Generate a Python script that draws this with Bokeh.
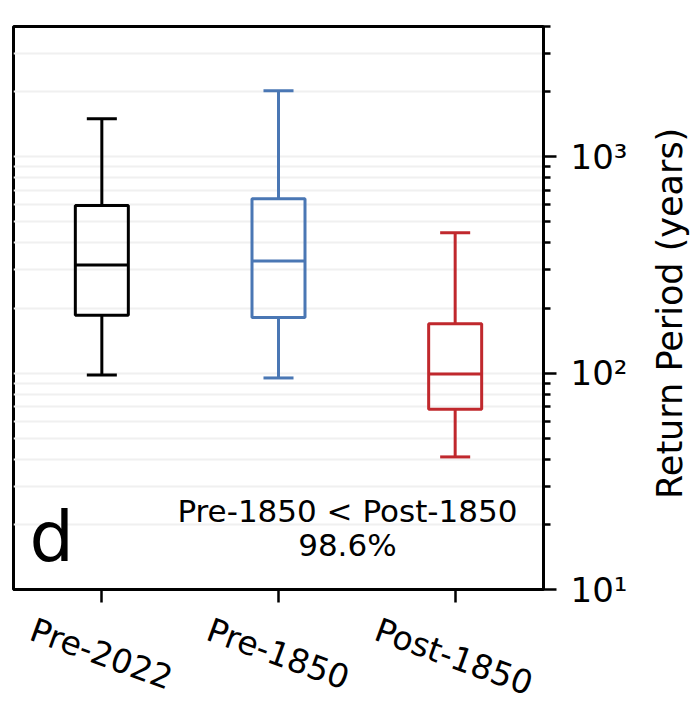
import math
from bokeh.plotting import figure
from bokeh.layouts import row
from bokeh.models import ColumnDataSource, FixedTicker, LinearAxis, Range1d
from bokeh.core.properties import value
from bokeh.embed import file_html
from bokeh.resources import INLINE

# Return-period distributions (years) for each period
categories = ["Pre-2022", "Pre-1850", "Post-1850"]
whisker_low = [98, 95, 41]
q1 = [185, 181, 68]
median = [316, 330, 99]
q3 = [595, 640, 169]
whisker_high = [1500, 2020, 445]
colors = ["#000000", "#4a77b4", "#c0282d"]

major_ticks = [10, 100, 1000]
tick_labels = {10: "10¹", 100: "10²", 1000: "10³"}
minor_ticks = [20, 30, 40, 50, 60, 70, 80, 90,
               200, 300, 400, 500, 600, 700, 800, 900,
               2000, 3000, 4000]

y_title = "Return Period (years)"
annotation_lines = ["Pre-1850 < Post-1850", "98.6%"]
panel_letter = "d"

FONT = "DejaVu Sans"
positions = [i + 1 for i in range(len(categories))]
box_w = 0.30
cap_w = 0.17

FRAME_W, FRAME_H = 530, 563
X_START, X_END = 0.5, 3.5
LABEL_PX = 33
LABEL_ANGLE = -0.349
TOTAL_W, TOTAL_H = 695, 703
TITLE_W = 50

src = ColumnDataSource(dict(
    x=positions, lo=whisker_low, q1=q1, med=median, q3=q3, hi=whisker_high,
    color=colors,
    left=[x - box_w / 2 for x in positions], right=[x + box_w / 2 for x in positions],
    cl=[x - cap_w / 2 for x in positions], cr=[x + cap_w / 2 for x in positions],
))

p = figure(
    frame_width=FRAME_W, frame_height=FRAME_H,
    x_range=(X_START, X_END), y_range=(10, 4000), y_axis_type="log",
    output_backend="svg", toolbar_location=None,
    y_axis_location="right",
    min_border_left=13, min_border_top=26,
    min_border_right=TOTAL_W - TITLE_W - 13 - FRAME_W,
    min_border_bottom=TOTAL_H - 26 - FRAME_H,
)
p.background_fill_color = "white"
p.border_fill_color = "white"
p.outline_line_color = "black"
p.outline_line_width = 3

# whiskers
p.segment(x0="x", y0="lo", x1="x", y1="q1", source=src, line_color="color", line_width=3)
p.segment(x0="x", y0="q3", x1="x", y1="hi", source=src, line_color="color", line_width=3)
# caps
p.segment(x0="cl", y0="lo", x1="cr", y1="lo", source=src, line_color="color", line_width=3)
p.segment(x0="cl", y0="hi", x1="cr", y1="hi", source=src, line_color="color", line_width=3)
# boxes
p.quad(left="left", right="right", bottom="q1", top="q3", source=src,
       fill_color=None, line_color="color", line_width=3)
# medians
p.segment(x0="left", y0="med", x1="right", y1="med", source=src, line_color="color", line_width=3)

# x axis: tick marks only
p.xaxis.ticker = FixedTicker(ticks=positions)
p.xaxis.major_label_overrides = {pos: "" for pos in positions}
p.xaxis.major_label_text_font_size = "1px"
p.xaxis.major_label_standoff = 0
p.xaxis.major_tick_out = 13
p.xaxis.major_tick_in = 0
p.xaxis.major_tick_line_width = 2.5
p.xaxis.minor_tick_line_color = None
p.xaxis.axis_line_width = 3
p.xgrid.grid_line_color = None

# Slanted category names: a second, line-less axis whose label anchors are
# shifted left by half the slanted text width so each name sits centred
# under its tick.
units_per_px = (X_END - X_START) / FRAME_W
shifts = [0.5 * 0.565 * len(c) * LABEL_PX * math.cos(LABEL_ANGLE) * units_per_px
          for c in categories]
label_pos = [pos - s for pos, s in zip(positions, shifts)]
p.extra_x_ranges = {"labels": Range1d(X_START, X_END)}
lab_axis = LinearAxis(x_range_name="labels")
lab_axis.ticker = FixedTicker(ticks=label_pos)
lab_axis.major_label_overrides = {lp: c for lp, c in zip(label_pos, categories)}
lab_axis.major_label_orientation = LABEL_ANGLE
lab_axis.major_label_text_font = FONT
lab_axis.major_label_text_font_size = f"{LABEL_PX}px"
lab_axis.major_label_text_color = "black"
lab_axis.major_label_standoff = 26
lab_axis.axis_line_color = None
lab_axis.major_tick_line_color = None
lab_axis.minor_tick_line_color = None
lab_axis.major_tick_out = 0
lab_axis.major_tick_in = 0
p.add_layout(lab_axis, "below")

# y axis (log, right side)
p.yaxis.ticker = FixedTicker(ticks=major_ticks, minor_ticks=minor_ticks)
p.yaxis.major_label_overrides = tick_labels
p.yaxis.major_label_text_font = FONT
p.yaxis.major_label_text_font_size = "34px"
p.yaxis.major_label_text_color = "black"
p.yaxis.major_label_standoff = 14
p.yaxis.major_tick_out = 13
p.yaxis.major_tick_in = 0
p.yaxis.minor_tick_out = 7
p.yaxis.minor_tick_in = 0
p.yaxis.major_tick_line_width = 2.5
p.yaxis.minor_tick_line_width = 2.5
p.yaxis.axis_line_width = 3

p.ygrid.grid_line_color = "#f0f0f0"
p.ygrid.grid_line_width = 2
p.ygrid.minor_grid_line_color = "#f0f0f0"
p.ygrid.minor_grid_line_width = 2

# significance annotation
p.text(x=[2.39, 2.39], y=[23.0, 16.1], text=annotation_lines,
       text_font=value(FONT), text_font_size="31px", text_color="black",
       text_align="center", text_baseline="alphabetic")
# panel letter
p.text(x=[0.59], y=[17.4], text=[panel_letter],
       text_font=value(FONT), text_font_size="70px", text_color="black",
       text_align="left", text_baseline="alphabetic")

# y-axis title strip, text reading bottom to top
t = figure(
    width=TITLE_W, height=TOTAL_H, x_range=(0, TITLE_W), y_range=(0, TOTAL_H),
    output_backend="svg", toolbar_location=None,
    min_border=0, x_axis_type=None, y_axis_type=None,
)
t.outline_line_color = None
t.background_fill_color = "white"
t.border_fill_color = "white"
t.grid.grid_line_color = None
t.text(x=[24], y=[TOTAL_H - 372], text=[y_title], angle=math.pi / 2,
       text_font=value(FONT), text_font_size="35px", text_color="black",
       text_align="center", text_baseline="middle")

layout = row(p, t, spacing=0)
open("out.html", "w").write(file_html(layout, INLINE))
